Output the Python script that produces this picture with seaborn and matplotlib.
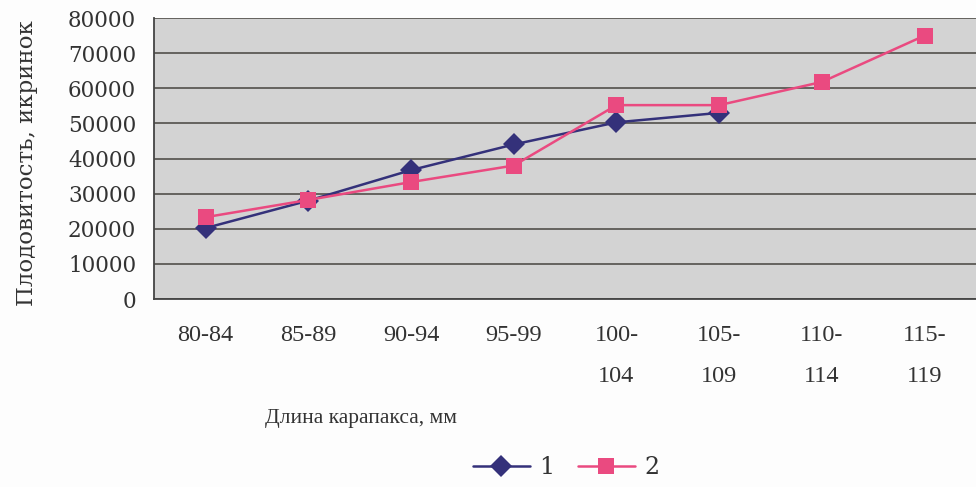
import pandas as pd
import matplotlib
matplotlib.use("Agg")
import matplotlib.pyplot as plt
import seaborn as sns
import numpy as np
from matplotlib.ticker import FixedLocator

# Длина карапакса (классы) и плодовитость двух выборок
categories = ["80-84", "85-89", "90-94", "95-99", "100-\n104", "105-\n109", "110-\n114", "115-\n119"]
series_1 = [20200, 28000, 36700, 44000, 50300, 53000, np.nan, np.nan]
series_2 = [23300, 28200, 33300, 38000, 55200, 55200, 61800, 75000]
series_names = ["1", "2"]

df = pd.DataFrame({
    "cat": categories * 2,
    "val": series_1 + series_2,
    "ser": [series_names[0]] * len(categories) + [series_names[1]] * len(categories),
})

sns.set_style("white")
plt.rcParams["font.family"] = ["DejaVu Serif", "DejaVu Sans"]

fig = plt.figure(figsize=(9.76, 4.87), dpi=100)
fig.patch.set_facecolor("#fdfdfd")
ax = fig.add_axes([0.158, 0.386, 0.842, 0.577])
ax.set_facecolor("#d3d3d3")

palette = {"1": "#34317a", "2": "#ea4a80"}
markers = {"1": "D", "2": "s"}
sns.lineplot(data=df, x="cat", y="val", hue="ser", style="ser", palette=palette,
             markers=markers, dashes=False, markersize=11, linewidth=1.8,
             markeredgewidth=0, sort=False, ax=ax)

ax.set_ylim(0, 80000)
ax.set_xlim(-0.5, 7.5)
ax.set_yticks(range(0, 80001, 10000))
ax.yaxis.grid(True, color="#5c5a55", linewidth=1.3)
ax.set_axisbelow(True)

for s in ["top", "right"]:
    ax.spines[s].set_visible(False)
for s in ["left", "bottom"]:
    ax.spines[s].set_color("#444444")
    ax.spines[s].set_linewidth(1.3)

ax.tick_params(axis="y", direction="out", length=9, width=1.2, color="#444444",
               labelsize=15.5, labelcolor="#333333", pad=4)
ax.tick_params(axis="x", which="major", length=0, pad=19)
ax.xaxis.set_minor_locator(FixedLocator(np.arange(-0.5, 8, 1)))
ax.tick_params(axis="x", which="minor", direction="out", length=9, width=1.2, color="#444444")
for lab in ax.get_xticklabels():
    lab.set_family("Liberation Serif")
    lab.set_fontsize(17.5)
    lab.set_color("#333333")
    lab.set_linespacing(2.2)

ax.set_ylabel("Плодовитость, икринок", fontsize=16.5, color="#333333")
ax.yaxis.set_label_coords(-0.142, 0.485)
ax.set_xlabel("Длина карапакса, мм", fontsize=15.5, color="#333333", family="Liberation Serif")
ax.xaxis.set_label_coords(0.252, -0.39)

handles, labels = ax.get_legend_handles_labels()
ax.get_legend().remove()
fig.legend(handles, labels, loc="center", bbox_to_anchor=(0.58, 0.04), ncol=2,
           frameon=False, fontsize=17, handlelength=2.4, columnspacing=1.0,
           handletextpad=0.4, labelcolor="#333333")

fig.savefig("out.png", dpi=100, facecolor=fig.get_facecolor())
